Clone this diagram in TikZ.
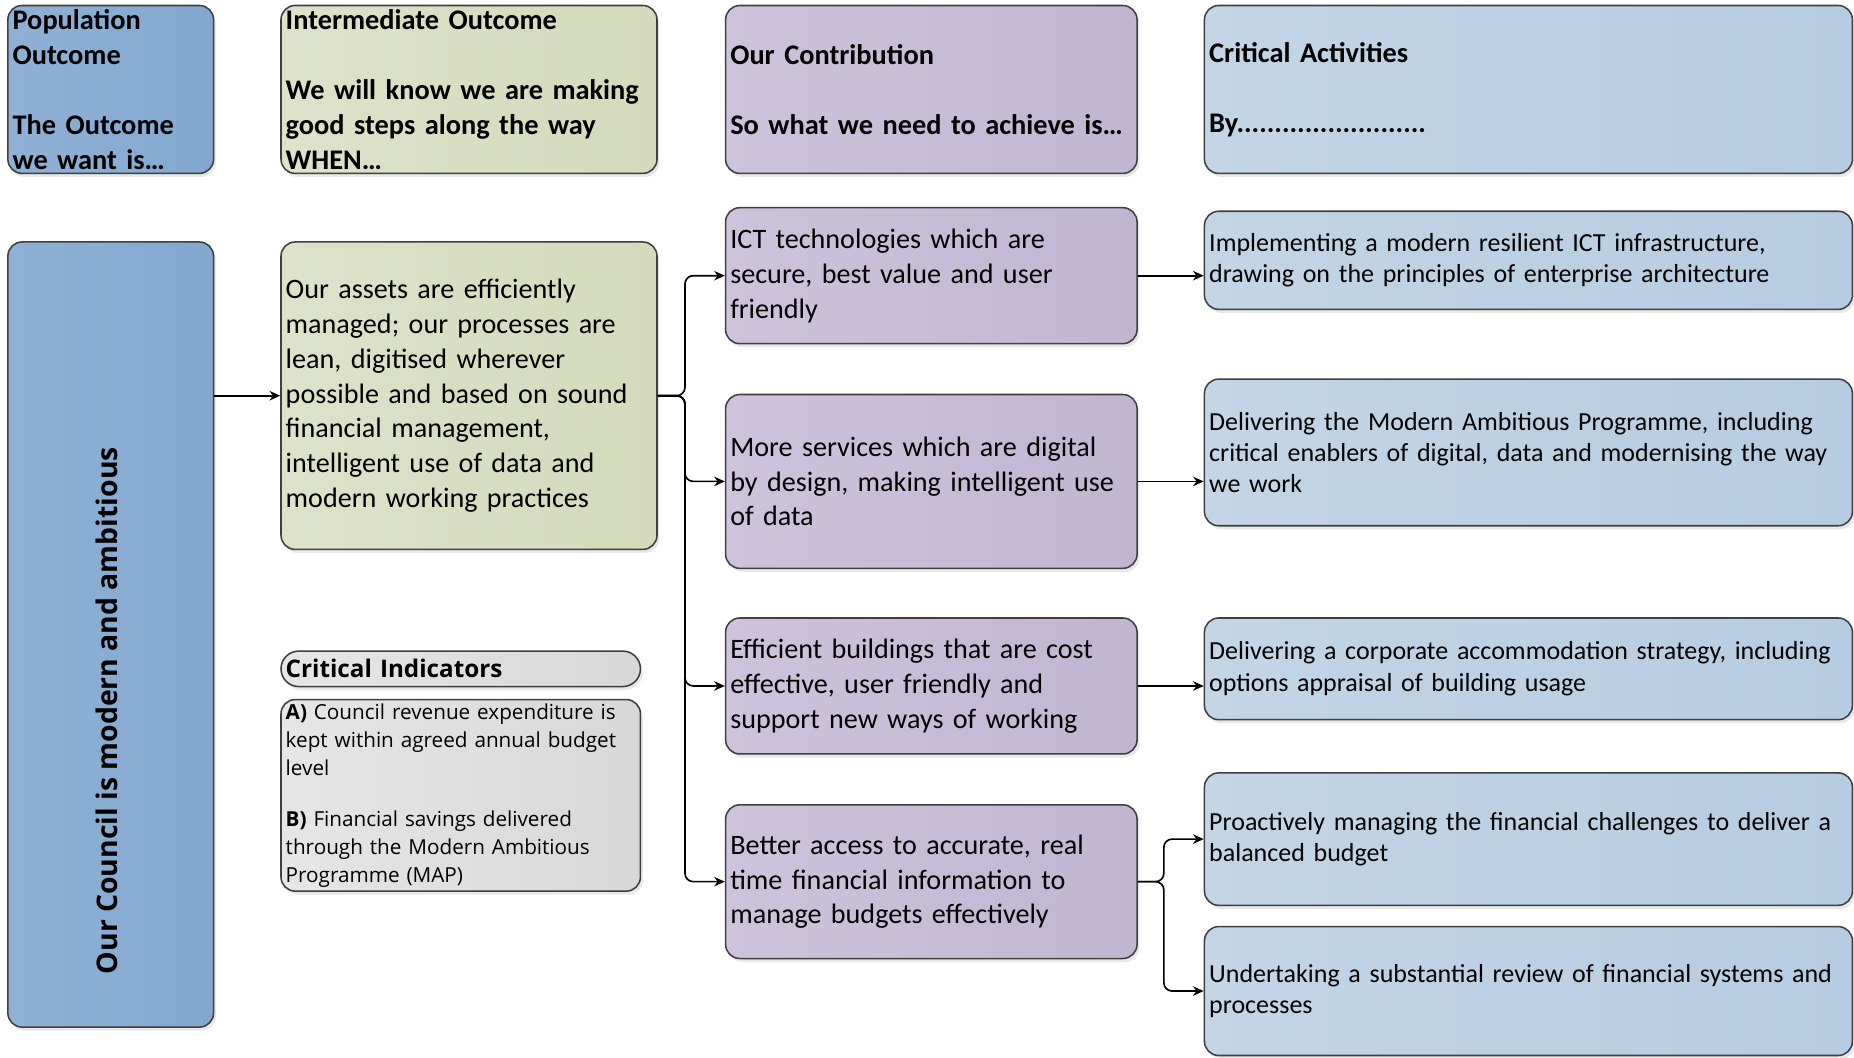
\documentclass[tikz,border=0pt]{standalone}
\usepackage{fontspec}
\setmainfont{Carlito}
\newfontfamily\osans{Open Sans}
\usetikzlibrary{shadows,arrows.meta}
\definecolor{popA}{HTML}{90B1D5}
\definecolor{popB}{HTML}{82A8CF}
\definecolor{grnA}{HTML}{DDE2CA}
\definecolor{grnB}{HTML}{D4DABB}
\definecolor{purA}{HTML}{CDC3DC}
\definecolor{purB}{HTML}{C1B6D2}
\definecolor{bluA}{HTML}{C3D5E6}
\definecolor{bluB}{HTML}{B6CCE1}
\definecolor{gryA}{HTML}{E6E6E6}
\definecolor{gryB}{HTML}{D8D8D8}
\definecolor{edgec}{HTML}{3F3F3F}
\begin{document}
\begin{tikzpicture}[x=1pt,y=-1pt,
  base/.style={draw=edgec, line width=1.3pt, rounded corners=12pt, anchor=north west,
    inner xsep=4pt, inner ysep=0pt, align=left,
    drop shadow={opacity=0.18, shadow xshift=2pt, shadow yshift=-3pt}},
  popbox/.style={base, shading=axis, shading angle=135, left color=popA, right color=popB},
  grnbox/.style={base, shading=axis, left color=grnA, right color=grnB},
  purbox/.style={base, shading=axis, left color=purA, right color=purB},
  blubox/.style={base, shading=axis, left color=bluA, right color=bluB},
  grybox/.style={base, shading=axis, left color=gryA, right color=gryB},
  hdr/.style={font=\bfseries\fontsize{24}{29.5}\selectfont},
  bodytxt/.style={font=\fontsize{23.8}{29.5}\selectfont},
  acttxt/.style={font=\fontsize{22}{26.5}\selectfont},
  indtxt/.style={font=\osans\fontsize{17.5}{23.5}\selectfont},
  conn/.style={draw=black, line width=1.4pt, rounded corners=7pt, -{Stealth[length=9pt,width=8pt]}}
]
\useasboundingbox (0,0) rectangle (1568,894);

% headers
\node[popbox, hdr, minimum width=174pt, minimum height=142pt, text width=166pt] (pop) at (6,4)
  {Population\\Outcome\\[29.5pt]The Outcome\\we want is\ldots};
\node[grnbox, hdr, minimum width=318pt, minimum height=142pt, text width=310pt] (int) at (237,4)
  {Intermediate Outcome\\[29.5pt]We will know we are making\\good steps along the way\\WHEN\ldots};
\node[purbox, hdr, minimum width=348pt, minimum height=142pt, text width=340pt] (con) at (613,4)
  {Our Contribution\\[29.5pt]So what we need to achieve is\ldots};
\node[blubox, hdr, minimum width=548pt, minimum height=142pt, text width=540pt] (act) at (1018,4)
  {Critical Activities\\[29.5pt]By.........................};

% left big box
\node[popbox, minimum width=174pt, minimum height=664pt] (L) at (6,204) {};
\node[rotate=90, font=\osans\bfseries\fontsize{24}{28}\selectfont] (Ltxt) at (90,601)
  {Our Council is modern and ambitious};

% green
\node[grnbox, bodytxt, minimum width=318pt, minimum height=260pt, text width=310pt] (G) at (237,204)
  {Our assets are efficiently\\managed; our processes are\\lean, digitised wherever\\possible and based on sound\\financial management,\\intelligent use of data and\\modern working practices};

% critical indicators
\node[grybox, rounded corners=15pt, font=\osans\bfseries\fontsize{20.5}{24}\selectfont,
  minimum width=304pt, minimum height=30pt, text width=296pt] (CI) at (237,550) {Critical Indicators};
\node[grybox, indtxt, minimum width=304pt, minimum height=162pt, text width=296pt] (IND) at (237,591)
  {\textbf{A)} Council revenue expenditure is\\kept within agreed annual budget\\level\\[20pt]\textbf{B)} Financial savings delivered\\through the Modern Ambitious\\Programme (MAP)};

% purple
\node[purbox, bodytxt, minimum width=348pt, minimum height=115pt, text width=340pt] (P1) at (613,175)
  {ICT technologies which are\\secure, best value and user\\friendly};
\node[purbox, bodytxt, minimum width=348pt, minimum height=147pt, text width=340pt] (P2) at (613,333)
  {More services which are digital\\by design, making intelligent use\\of data};
\node[purbox, bodytxt, minimum width=348pt, minimum height=115pt, text width=340pt] (P3) at (613,522)
  {Efficient buildings that are cost\\effective, user friendly and\\support new ways of working};
\node[purbox, bodytxt, minimum width=348pt, minimum height=130pt, text width=340pt] (P4) at (613,680)
  {Better access to accurate, real\\time financial information to\\manage budgets effectively};

% blue
\node[blubox, acttxt, minimum width=548pt, minimum height=83pt, text width=540pt] (B1) at (1018,178)
  {Implementing a modern resilient ICT infrastructure,\\drawing on the principles of enterprise architecture};
\node[blubox, acttxt, minimum width=548pt, minimum height=124pt, text width=540pt] (B2) at (1018,320)
  {Delivering the Modern Ambitious Programme, including\\critical enablers of digital, data and modernising the way\\we work};
\node[blubox, acttxt, minimum width=548pt, minimum height=86pt, text width=540pt] (B3) at (1018,522)
  {Delivering a corporate accommodation strategy, including\\options appraisal of building usage};
\node[blubox, acttxt, minimum width=548pt, minimum height=112pt, text width=540pt] (B4) at (1018,653)
  {Proactively managing the financial challenges to deliver a\\balanced budget};
\node[blubox, acttxt, minimum width=548pt, minimum height=109pt, text width=540pt] (B5) at (1018,783)
  {Undertaking a substantial review of financial systems and\\processes};

% connectors
\draw[conn] (L.east |- G.west) -- (G.west);
\draw[conn] (G.east) -- ++(23,0) |- (P1.west);
\draw[conn] (G.east) -- ++(23,0) |- (P2.west);
\draw[conn] (G.east) -- ++(23,0) |- (P3.west);
\draw[conn] (G.east) -- ++(23,0) |- (P4.west);
\draw[conn] (P1.east) -- (P1.east -| B1.west);
\draw[conn] (P2.east) -- (P2.east -| B2.west);
\draw[conn] (P3.east) -- (P3.east -| B3.west);
\draw[conn] (P4.east) -- ++(22,0) |- (B4.west);
\draw[conn] (P4.east) -- ++(22,0) |- (B5.west);
\end{tikzpicture}
\end{document}
